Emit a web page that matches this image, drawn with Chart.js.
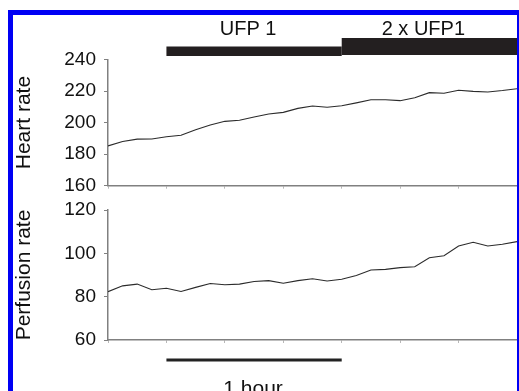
<!DOCTYPE html>
<html>
<head>
<meta charset="utf-8">
<script src="https://cdn.jsdelivr.net/npm/chart.js@4/dist/chart.umd.min.js"></script>
<style>
  html, body { margin: 0; padding: 0; background: #fff; }
  #wrap { position: relative; width: 519px; height: 391px; overflow: hidden; background: #fff; }
  #wrap canvas { position: absolute; left: 0; top: 0; }
  #frame {
    position: absolute; left: 8px; top: 10px; width: 511px; height: 400px;
    box-sizing: border-box; pointer-events: none;
    border-left: 5px solid #0000f4; border-top: 5px solid #0000f4; border-right: 2px solid #0000f4;
  }
</style>
</head>
<body>
<div id="wrap">
  <canvas id="heart" width="519" height="391"></canvas>
  <canvas id="perfusion" width="519" height="391"></canvas>
  <div id="frame"></div>
</div>
<script>
// Sample index, one reading every 5 minutes
const samples = [0, 1, 2, 3, 4, 5, 6, 7, 8, 9, 10, 11, 12, 13, 14, 15, 16, 17, 18, 19, 20, 21, 22, 23, 24, 25, 26, 27, 28];
const heartRate = [185.2, 188, 189.5, 189.6, 191, 192, 195.5, 198.5, 200.8, 201.5, 203.5, 205.5, 206.5, 209, 210.5,
                   209.7, 210.7, 212.5, 214.5, 214.5, 213.9, 215.8, 219, 218.6, 220.5, 219.8, 219.4, 220.3, 221.5];
const perfusionRate = [82.3, 85, 85.8, 83.2, 83.9, 82.4, 84.3, 86.1, 85.5, 85.8, 87, 87.4, 86.2, 87.4, 88.3,
                       87.2, 88, 89.8, 92.3, 92.6, 93.4, 93.8, 98, 98.9, 103.4, 105.1, 103.4, 104.2, 105.4];
const heartTicks = [160, 180, 200, 220, 240];
const perfusionTicks = [60, 80, 100, 120];
const timeTicks = [0, 4, 8, 12, 16, 20, 24, 28];

// Treatment periods (sample index)
const periodLabels = ['UFP 1', '2 x UFP1'];
const periodStart = [4, 16];
const periodEnd = [16, 28];

// Time scale bar (sample index)
const hourBar = [4, 16];
const hourLabel = '1 hour';

const FONT = "'Liberation Sans', Arial, Helvetica, sans-serif";
Chart.defaults.font.family = FONT;
Chart.defaults.color = '#111';

const AXIS = '#808080';

function makeOptions(yMin, yMax, yTicks, title, padTop, padBottom) {
  return {
    responsive: false,
    animation: false,
    events: [],
    layout: { padding: { left: 0, right: 2, top: padTop, bottom: padBottom } },
    plugins: { legend: { display: false }, tooltip: { enabled: false } },
    elements: { point: { radius: 0 } },
    scales: {
      x: {
        type: 'linear', min: 0, max: 28,
        afterBuildTicks: s => { s.ticks = timeTicks.map(v => ({ value: v })); },
        afterFit: s => { s.height = 5; },
        ticks: { display: false },
        grid: { drawOnChartArea: false, drawTicks: true, tickLength: 3, color: '#b8b8b8', lineWidth: 1 },
        border: { display: true, color: AXIS, width: 1.5 }
      },
      y: {
        min: yMin, max: yMax,
        afterBuildTicks: s => { s.ticks = yTicks.map(v => ({ value: v })); },
        afterFit: s => { s.width = 108; },
        ticks: { padding: 8, font: { size: 19 }, color: '#111' },
        grid: { drawOnChartArea: false, drawTicks: true, tickLength: 4, color: AXIS, lineWidth: 1 },
        border: { display: true, color: AXIS, width: 1.5 },
        title: { display: true, text: title, font: { size: 21 }, color: '#111', padding: { top: 12, bottom: 0 } }
      }
    }
  };
}

const periodPlugin = {
  id: 'periods',
  afterDraw(chart) {
    const ctx = chart.ctx, xs = chart.scales.x;
    const barTop = [46.5, 38], barBottom = [56, 55];
    ctx.save();
    periodStart.forEach((s, i) => {
      const x0 = xs.getPixelForValue(s), x1 = xs.getPixelForValue(periodEnd[i]);
      ctx.fillStyle = '#231f20';
      ctx.fillRect(x0, barTop[i], x1 - x0, barBottom[i] - barTop[i]);
      ctx.fillStyle = '#111';
      ctx.font = '20px ' + FONT;
      ctx.textAlign = 'center';
      ctx.textBaseline = 'alphabetic';
      ctx.fillText(periodLabels[i], (x0 + x1) / 2 - 6, 34.5);
    });
    ctx.restore();
  }
};

const hourPlugin = {
  id: 'hourBar',
  afterDraw(chart) {
    const ctx = chart.ctx, xs = chart.scales.x;
    const x0 = xs.getPixelForValue(hourBar[0]), x1 = xs.getPixelForValue(hourBar[1]);
    ctx.save();
    ctx.strokeStyle = '#222';
    ctx.lineWidth = 3;
    ctx.beginPath();
    ctx.moveTo(x0, 360);
    ctx.lineTo(x1, 360);
    ctx.stroke();
    ctx.fillStyle = '#111';
    ctx.font = '21px ' + FONT;
    ctx.textAlign = 'center';
    ctx.textBaseline = 'alphabetic';
    ctx.fillText(hourLabel, (x0 + x1) / 2 - 1, 395);
    ctx.restore();
  }
};

function series(values) {
  return samples.map((x, i) => ({ x, y: values[i] }));
}

new Chart(document.getElementById('heart'), {
  type: 'line',
  data: { datasets: [{ data: series(heartRate), borderColor: '#2b2b2b', borderWidth: 1.1, fill: false, tension: 0 }] },
  options: makeOptions(160, 240, heartTicks, 'Heart rate', 59.5, 391 - 185.7 - 5),
  plugins: [periodPlugin]
});

new Chart(document.getElementById('perfusion'), {
  type: 'line',
  data: { datasets: [{ data: series(perfusionRate), borderColor: '#2b2b2b', borderWidth: 1.1, fill: false, tension: 0 }] },
  options: makeOptions(60, 120, perfusionTicks, 'Perfusion rate', 210, 391 - 340 - 5),
  plugins: [hourPlugin]
});
</script>
</body>
</html>
